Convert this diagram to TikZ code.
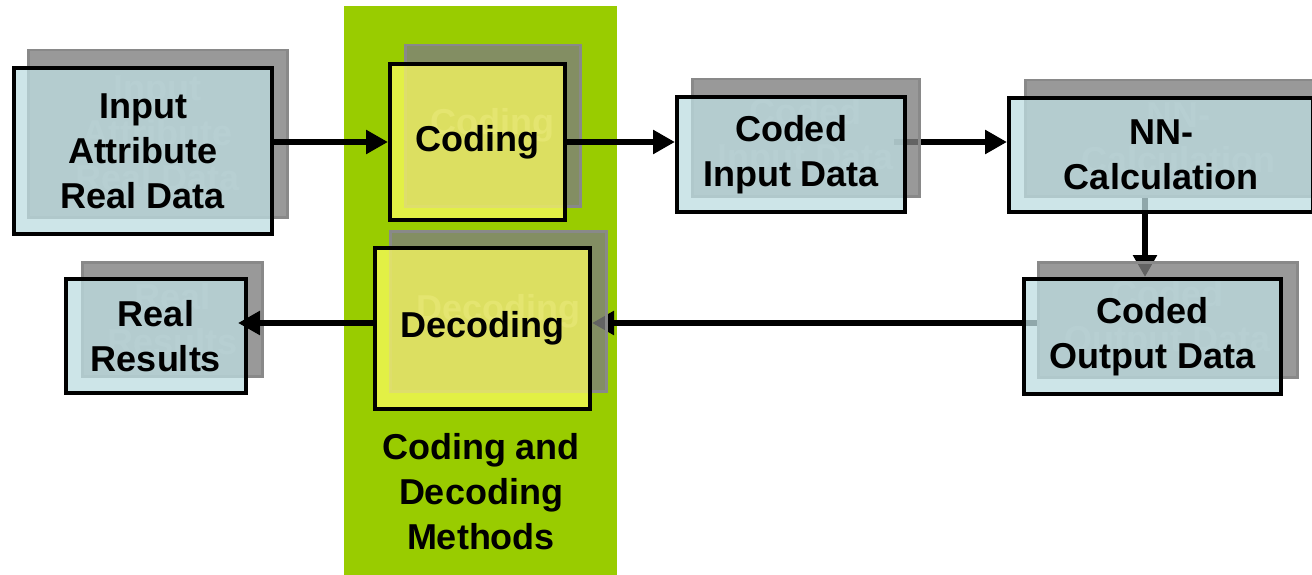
\documentclass[tikz,border=0pt]{standalone}
\usepackage{fontspec}
\setmainfont{Liberation Sans}
\usetikzlibrary{arrows.meta}
\definecolor{panelgreen}{RGB}{153,204,0}
\definecolor{frontblue}{RGB}{189,221,225}
\definecolor{frontyellow}{RGB}{255,255,97}
\definecolor{shadowfill}{RGB}{126,126,126}
\definecolor{shadowline}{RGB}{137,137,137}
\definecolor{ghost}{RGB}{170,170,170}
\pgfdeclarelayer{bg}
\pgfdeclarelayer{arr}
\pgfsetlayers{bg,arr,main}
\begin{document}
\begin{tikzpicture}[x=1pt,y=-1pt,
  txt/.style={font=\fontsize{36}{45}\selectfont\bfseries, align=center},
  shadowbox/.style={txt, draw=shadowline, line width=2.5pt, fill=shadowfill,
    fill opacity=0.79, text=ghost, text opacity=0.75, anchor=north west, inner sep=0pt},
  frontbox/.style={txt, draw=black, line width=4pt, fill=frontblue,
    fill opacity=0.755, text=black, text opacity=1, anchor=north west, inner sep=0pt},
  yellowbox/.style={frontbox, fill=frontyellow, fill opacity=0.72},
  conn/.style={line width=6.5pt, draw=black, -{Triangle[length=22pt,width=23pt]}}
]
\useasboundingbox (0,0) rectangle (1312,575);
\clip (0,0) rectangle (1312,575);

\begin{pgfonlayer}{bg}
  \fill[panelgreen] (344,6) rectangle (617,575);
\end{pgfonlayer}

% Input Attribute Real Data
\node[shadowbox, minimum width=259pt, minimum height=167pt] (inS) at (27,49) {Input\\Attribute\\Real Data};
\node[frontbox, minimum width=258pt, minimum height=166pt] (in) at (12,66) {Input\\Attribute\\Real Data};

% Coding
\node[shadowbox, minimum width=175pt, minimum height=161pt] (codS) at (404,44) {Coding};
\node[yellowbox, minimum width=175pt, minimum height=156pt] (cod) at (388,62) {Coding};

% Decoding
\node[shadowbox, minimum width=216pt, minimum height=160pt] (decS) at (389,230) {Decoding};
\node[yellowbox, minimum width=215pt, minimum height=161pt] (dec) at (373,246) {Decoding};

% Coded Input Data
\node[shadowbox, minimum width=227pt, minimum height=117pt] (cinS) at (691,78) {Coded\\Input Data};
\node[frontbox, minimum width=228pt, minimum height=115pt] (cin) at (675,95) {Coded\\Input Data};

% NN-Calculation
\node[shadowbox, minimum width=306pt, minimum height=116pt] (nnS) at (1024,79) {NN-\\Calculation};
\node[frontbox, minimum width=304pt, minimum height=114pt] (nn) at (1007,96) {NN-\\Calculation};

% Coded Output Data
\node[shadowbox, minimum width=259pt, minimum height=115pt] (coutS) at (1037,261) {Coded\\Output Data};
\node[frontbox, minimum width=257pt, minimum height=115pt] (cout) at (1022,277) {Coded\\Output Data};

% Real Results
\node[shadowbox, minimum width=180pt, minimum height=114pt] (realS) at (81,261) {Real\\Results};
\node[frontbox, minimum width=180pt, minimum height=114pt] (real) at (64,277) {Real\\Results};

% label
\node[txt] (lbl) at (481,492) {Coding and\\Decoding\\Methods};

\begin{pgfonlayer}{arr}
  \draw[conn, shorten <=-13pt] (cin.east |- 0,142) -- (nn.west |- 0,142);
  \draw[conn] (nnS.south -| 1145,0) -- (cout.north -| 1145,0);
  \draw[conn] (coutS.west |- 0,323) -- (dec.east |- 0,323);
\end{pgfonlayer}
\draw[conn] (in.east |- 0,142) -- (cod.west |- 0,142);
\draw[conn] (cod.east |- 0,142) -- (cin.west |- 0,142);
\draw[conn, shorten >=-10pt] (dec.west |- 0,323) -- (real.east |- 0,323);
\end{tikzpicture}
\end{document}
